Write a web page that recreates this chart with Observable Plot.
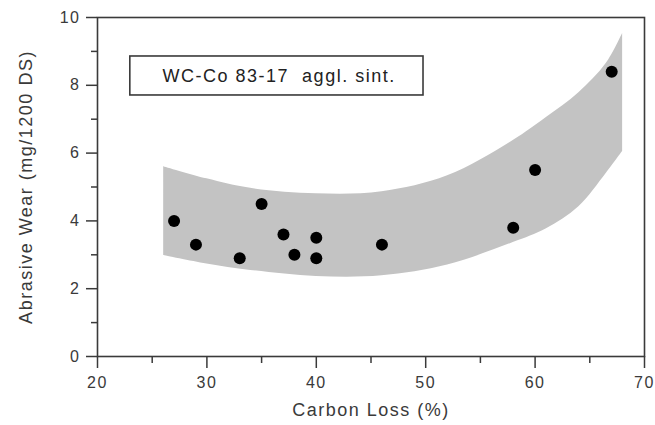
<!DOCTYPE html>
<html>
<head>
<meta charset="utf-8">
<script src="https://cdn.jsdelivr.net/npm/d3@7"></script>
<script src="https://cdn.jsdelivr.net/npm/@observablehq/plot@0.6"></script>
<style>
  html, body { margin: 0; padding: 0; background: #fff; }
  #chart svg text { letter-spacing: 1.5px; }
</style>
</head>
<body>
<div id="chart"></div>
<script>
// Measured points
const carbonLoss = [27, 29, 33, 35, 37, 38, 40, 40, 46, 58, 60, 67];
const abrasiveWear = [4.0, 3.3, 2.9, 4.5, 3.6, 3.0, 3.5, 2.9, 3.3, 3.8, 5.5, 8.4];

// Shaded scatter band
const bandX    = [26.05, 30, 34, 40, 46, 52, 58, 61, 64, 66.5, 68.0];
const bandLow  = [2.98, 2.73, 2.54, 2.36, 2.38, 2.70, 3.36, 3.76, 4.42, 5.40, 6.05];
const bandHigh = [5.60, 5.24, 4.96, 4.80, 4.86, 5.33, 6.37, 7.04, 7.78, 8.64, 9.53];

// Ticks
const xMajor = [20, 30, 40, 50, 60, 70];
const xMinor = [25, 35, 45, 55, 65];
const yMajor = [0, 2, 4, 6, 8, 10];
const yMinor = [1, 3, 5, 7, 9];

const annotation = "WC-Co 83-17\u00a0 aggl. sint.";

const points = carbonLoss.map((x, i) => ({x, y: abrasiveWear[i]}));
const band = bandX.map((x, i) => ({x, lo: bandLow[i], hi: bandHigh[i]}));

const ink = "#3a3a3a";

const chart = Plot.plot({
  width: 655,
  height: 425,
  marginLeft: 97,
  marginRight: 11,
  marginTop: 17,
  marginBottom: 69,
  style: {fontFamily: "'Liberation Sans', Arial, sans-serif", fontSize: "16px", color: ink, background: "#fff"},
  x: {domain: [20, 70]},
  y: {domain: [0, 10]},
  marks: [
    Plot.areaY(band, {x: "x", y1: "lo", y2: "hi", fill: "#c3c3c3", curve: "catmull-rom"}),
    Plot.rect([{x1: 23.0, x2: 49.8, y1: 7.70, y2: 8.85}], {x1: "x1", x2: "x2", y1: "y1", y2: "y2", fill: "white", stroke: ink, strokeWidth: 1.6}),
    Plot.text([annotation], {x: () => 36.6, y: () => 8.27, text: d => d, fontSize: 18, fill: "#222"}),
    Plot.dot(points, {x: "x", y: "y", r: 6, fill: "#000"}),
    Plot.frame({stroke: ink, strokeWidth: 1.6}),
    Plot.axisX({ticks: xMajor, tickSize: 12, tickPadding: 8, tickFormat: d => d, stroke: ink, strokeWidth: 1.5,
      label: "Carbon Loss (%)", labelAnchor: "center", labelArrow: "none", labelOffset: 59, fontSize: 16}),
    Plot.axisX({ticks: xMinor, tickSize: 7, tickFormat: null, text: null, label: null, stroke: ink, strokeWidth: 1.5}),
    Plot.axisY({ticks: yMajor, tickSize: 11, tickPadding: 6, tickFormat: d => d, stroke: ink, strokeWidth: 1.5,
      label: "Abrasive Wear (mg/1200 DS)", labelAnchor: "center", labelArrow: "none", labelOffset: 78, fontSize: 16}),
    Plot.axisY({ticks: yMinor, tickSize: 6, tickFormat: null, text: null, label: null, stroke: ink, strokeWidth: 1.5})
  ]
});
// Enlarge axis titles
d3.select(chart).selectAll("g[aria-label='x-axis label'] text, g[aria-label='y-axis label'] text").style("font-size", "18px");
document.getElementById("chart").appendChild(chart);
</script>
</body>
</html>
